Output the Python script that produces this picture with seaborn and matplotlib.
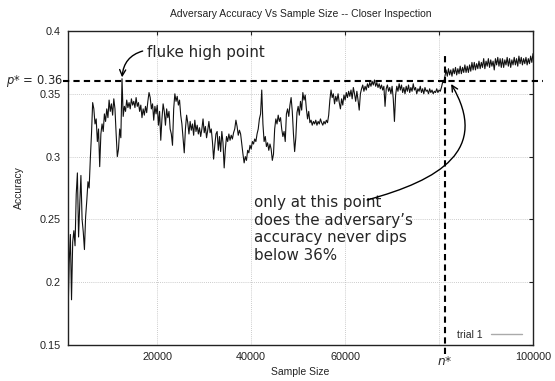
import numpy as np
import pandas as pd
import matplotlib
matplotlib.use("Agg")
import matplotlib.pyplot as plt
from matplotlib.lines import Line2D
from matplotlib.patches import FancyArrowPatch
from matplotlib.path import Path
from matplotlib import transforms
import seaborn as sns

# ---------------- data ----------------
sample_size = np.arange(1000, 100001, 250)
accuracy = [
    0.172, 0.215, 0.238, 0.186, 0.232, 0.241, 0.229, 0.270, 0.287, 0.236,
    0.262, 0.285, 0.250, 0.240, 0.226, 0.252, 0.265, 0.280, 0.275, 0.298,
    0.318, 0.343, 0.338, 0.326, 0.330, 0.312, 0.322, 0.292, 0.318, 0.326,
    0.320, 0.334, 0.328, 0.338, 0.331, 0.345, 0.336, 0.342, 0.333, 0.346,
    0.338, 0.318, 0.300, 0.306, 0.322, 0.315, 0.362, 0.332, 0.340, 0.336,
    0.345, 0.339, 0.343, 0.338, 0.346, 0.341, 0.344, 0.339, 0.347, 0.340,
    0.343, 0.336, 0.341, 0.331, 0.338, 0.333, 0.340, 0.335, 0.344, 0.351,
    0.347, 0.338, 0.342, 0.329, 0.340, 0.334, 0.341, 0.325, 0.336, 0.313,
    0.330, 0.342, 0.336, 0.325, 0.338, 0.331, 0.336, 0.322, 0.318, 0.309,
    0.338, 0.350, 0.344, 0.348, 0.341, 0.345, 0.333, 0.326, 0.315, 0.303,
    0.322, 0.333, 0.327, 0.318, 0.328, 0.321, 0.326, 0.317, 0.329, 0.320,
    0.325, 0.318, 0.323, 0.316, 0.322, 0.330, 0.319, 0.324, 0.315, 0.321,
    0.328, 0.319, 0.322, 0.312, 0.298, 0.309, 0.318, 0.320, 0.305, 0.316,
    0.304, 0.320, 0.311, 0.291, 0.306, 0.316, 0.312, 0.318, 0.313, 0.317,
    0.314, 0.319, 0.322, 0.329, 0.324, 0.317, 0.321, 0.318, 0.310, 0.302,
    0.295, 0.300, 0.297, 0.305, 0.303, 0.309, 0.306, 0.312, 0.310, 0.314,
    0.312, 0.318, 0.322, 0.330, 0.334, 0.353, 0.326, 0.312, 0.316, 0.308,
    0.311, 0.305, 0.310, 0.306, 0.297, 0.302, 0.322, 0.330, 0.326, 0.333,
    0.328, 0.331, 0.322, 0.316, 0.320, 0.312, 0.334, 0.338, 0.332, 0.341,
    0.347, 0.336, 0.318, 0.304, 0.315, 0.335, 0.340, 0.333, 0.344, 0.337,
    0.351, 0.345, 0.349, 0.338, 0.330, 0.336, 0.327, 0.329, 0.325, 0.328,
    0.326, 0.329, 0.325, 0.328, 0.326, 0.330, 0.327, 0.325, 0.328, 0.326,
    0.329, 0.327, 0.333, 0.345, 0.353, 0.347, 0.350, 0.342, 0.348, 0.344,
    0.350, 0.343, 0.338, 0.346, 0.341, 0.349, 0.345, 0.351, 0.347, 0.352,
    0.348, 0.353, 0.346, 0.355, 0.350, 0.344, 0.352, 0.345, 0.337, 0.350,
    0.354, 0.357, 0.352, 0.356, 0.353, 0.358, 0.355, 0.359, 0.356, 0.360,
    0.357, 0.361, 0.356, 0.359, 0.355, 0.358, 0.354, 0.357, 0.353, 0.356,
    0.340, 0.354, 0.357, 0.352, 0.355, 0.350, 0.356, 0.346, 0.328, 0.349,
    0.356, 0.352, 0.358, 0.353, 0.357, 0.351, 0.355, 0.350, 0.356, 0.352,
    0.357, 0.351, 0.355, 0.352, 0.358, 0.353, 0.355, 0.350, 0.354, 0.352,
    0.356, 0.351, 0.354, 0.350, 0.355, 0.352, 0.353, 0.350, 0.354, 0.351,
    0.353, 0.350, 0.352, 0.351, 0.354, 0.351, 0.353, 0.352, 0.355, 0.359,
    0.359, 0.364, 0.369, 0.364, 0.370, 0.365, 0.369, 0.364, 0.370, 0.366,
    0.371, 0.365, 0.370, 0.366, 0.372, 0.366, 0.371, 0.367, 0.373, 0.367,
    0.372, 0.367, 0.373, 0.368, 0.375, 0.369, 0.375, 0.369, 0.374, 0.370,
    0.376, 0.370, 0.375, 0.371, 0.378, 0.370, 0.376, 0.372, 0.378, 0.371,
    0.377, 0.372, 0.376, 0.369, 0.378, 0.373, 0.379, 0.372, 0.378, 0.371,
    0.378, 0.371, 0.377, 0.373, 0.379, 0.372, 0.378, 0.371, 0.377, 0.373,
    0.379, 0.373, 0.378, 0.372, 0.380, 0.374, 0.379, 0.373, 0.378, 0.374,
    0.379, 0.373, 0.378, 0.374, 0.380, 0.375, 0.382,
]
x_ticks = [20000, 40000, 60000, 80000, 100000]
x_tick_labels = ["20000", "40000", "60000", "", "100000"]
y_ticks = [0.15, 0.2, 0.25, 0.3, 0.35, 0.4]
y_tick_labels = ["0.15", "0.2", "0.25", "0.3", "0.35", "0.4"]
p_star = 0.36
n_star = 81300
fluke_x, fluke_y = 12500, 0.362
series_name = "trial 1"

df = pd.DataFrame({"Sample Size": sample_size, "Accuracy": accuracy})

# ---------------- style ----------------
sns.set_style("white")
plt.rcParams["font.family"] = ["Liberation Sans", "DejaVu Sans"]
plt.rcParams["mathtext.fontset"] = "dejavusans"

W, H = 555, 381
fig = plt.figure(figsize=(W / 100, H / 100), dpi=100)
L, R, T, B = 68, 533, 31, 345
ax = fig.add_axes([L / W, 1 - B / H, (R - L) / W, (B - T) / H])

sns.lineplot(data=df, x="Sample Size", y="Accuracy", ax=ax, color="#111111",
             lw=0.8, legend=False, estimator=None)

ax.set_xlim(1000, 100000)
ax.set_ylim(0.15, 0.4)
ax.set_xticks(x_ticks)
ax.set_xticklabels(x_tick_labels)
ax.set_yticks(y_ticks)
ax.set_yticklabels(y_tick_labels)
ax.tick_params(direction="in", length=3, width=0.8, top=True, right=True,
               labelsize=7.8, colors="#222222", pad=5)
ax.grid(True, linestyle=(0, (1, 1.5)), color="#bbbbbb", lw=0.6)
for s in ax.spines.values():
    s.set_color("#222222")
    s.set_linewidth(1.0)

ax.set_xlabel("Sample Size", fontsize=7.5, color="#222222")
ax.set_ylabel("Accuracy", fontsize=7.5, color="#222222")
ax.xaxis.set_label_coords(0.5, -0.07)
ax.yaxis.set_label_coords(-0.0946, 0.5)
ax.set_title("Adversary Accuracy Vs Sample Size -- Closer Inspection",
             fontsize=7.5, color="#222222", pad=10)

# reference lines
ax.axhline(p_star, xmin=-0.011, xmax=1.022, color="black", lw=1.5,
           dashes=(3, 2), clip_on=False, zorder=3)
ax.axvline(n_star, ymin=-0.03, ymax=0.927, color="black", lw=1.5,
           dashes=(3, 2), clip_on=False, zorder=3)

ann_font = ["DejaVu Sans"]
ax.text(-0.011, p_star, "$p$* = 0.36",
        transform=transforms.blended_transform_factory(ax.transAxes, ax.transData),
        ha="right", va="center", fontsize=8.3, family=ann_font)
ax.text(n_star, -0.054, "$n$*",
        transform=transforms.blended_transform_factory(ax.transData, ax.transAxes),
        ha="center", va="center", fontsize=8.7, family=ann_font)

ax.annotate("fluke high point", xy=(fluke_x, fluke_y), xytext=(17875, 0.3825),
            ha="left", va="center", fontsize=10.9, family=ann_font,
            arrowprops=dict(arrowstyle="->", connectionstyle="arc3,rad=0.4",
                            lw=1.0, color="black", relpos=(0, 0.7),
                            shrinkA=1, shrinkB=1))

ax.text(40645, 0.2695,
        "only at this point\ndoes the adversary\u2019s\naccuracy never dips\nbelow 36%",
        ha="left", va="top", fontsize=10.9, family=ann_font, linespacing=1.22)

# curved pointer from the text to the (n*, p*) crossing (cubic Bezier)
arrow_path = Path([(64690, 0.2655), (80226, 0.2814), (90866, 0.3053), (82566, 0.3578)],
                  [Path.MOVETO, Path.CURVE4, Path.CURVE4, Path.CURVE4])
ax.add_patch(FancyArrowPatch(path=arrow_path, arrowstyle="->", mutation_scale=10.9,
                             lw=1.0, color="black", zorder=4))

ax.legend(handles=[Line2D([], [], color="#aaaaaa", lw=1.0)], labels=[series_name],
          loc="lower right", bbox_to_anchor=(0.985, 0.003), borderaxespad=0,
          frameon=False, markerfirst=False, handlelength=3, fontsize=7.5)

fig.savefig("out.png", dpi=100)
